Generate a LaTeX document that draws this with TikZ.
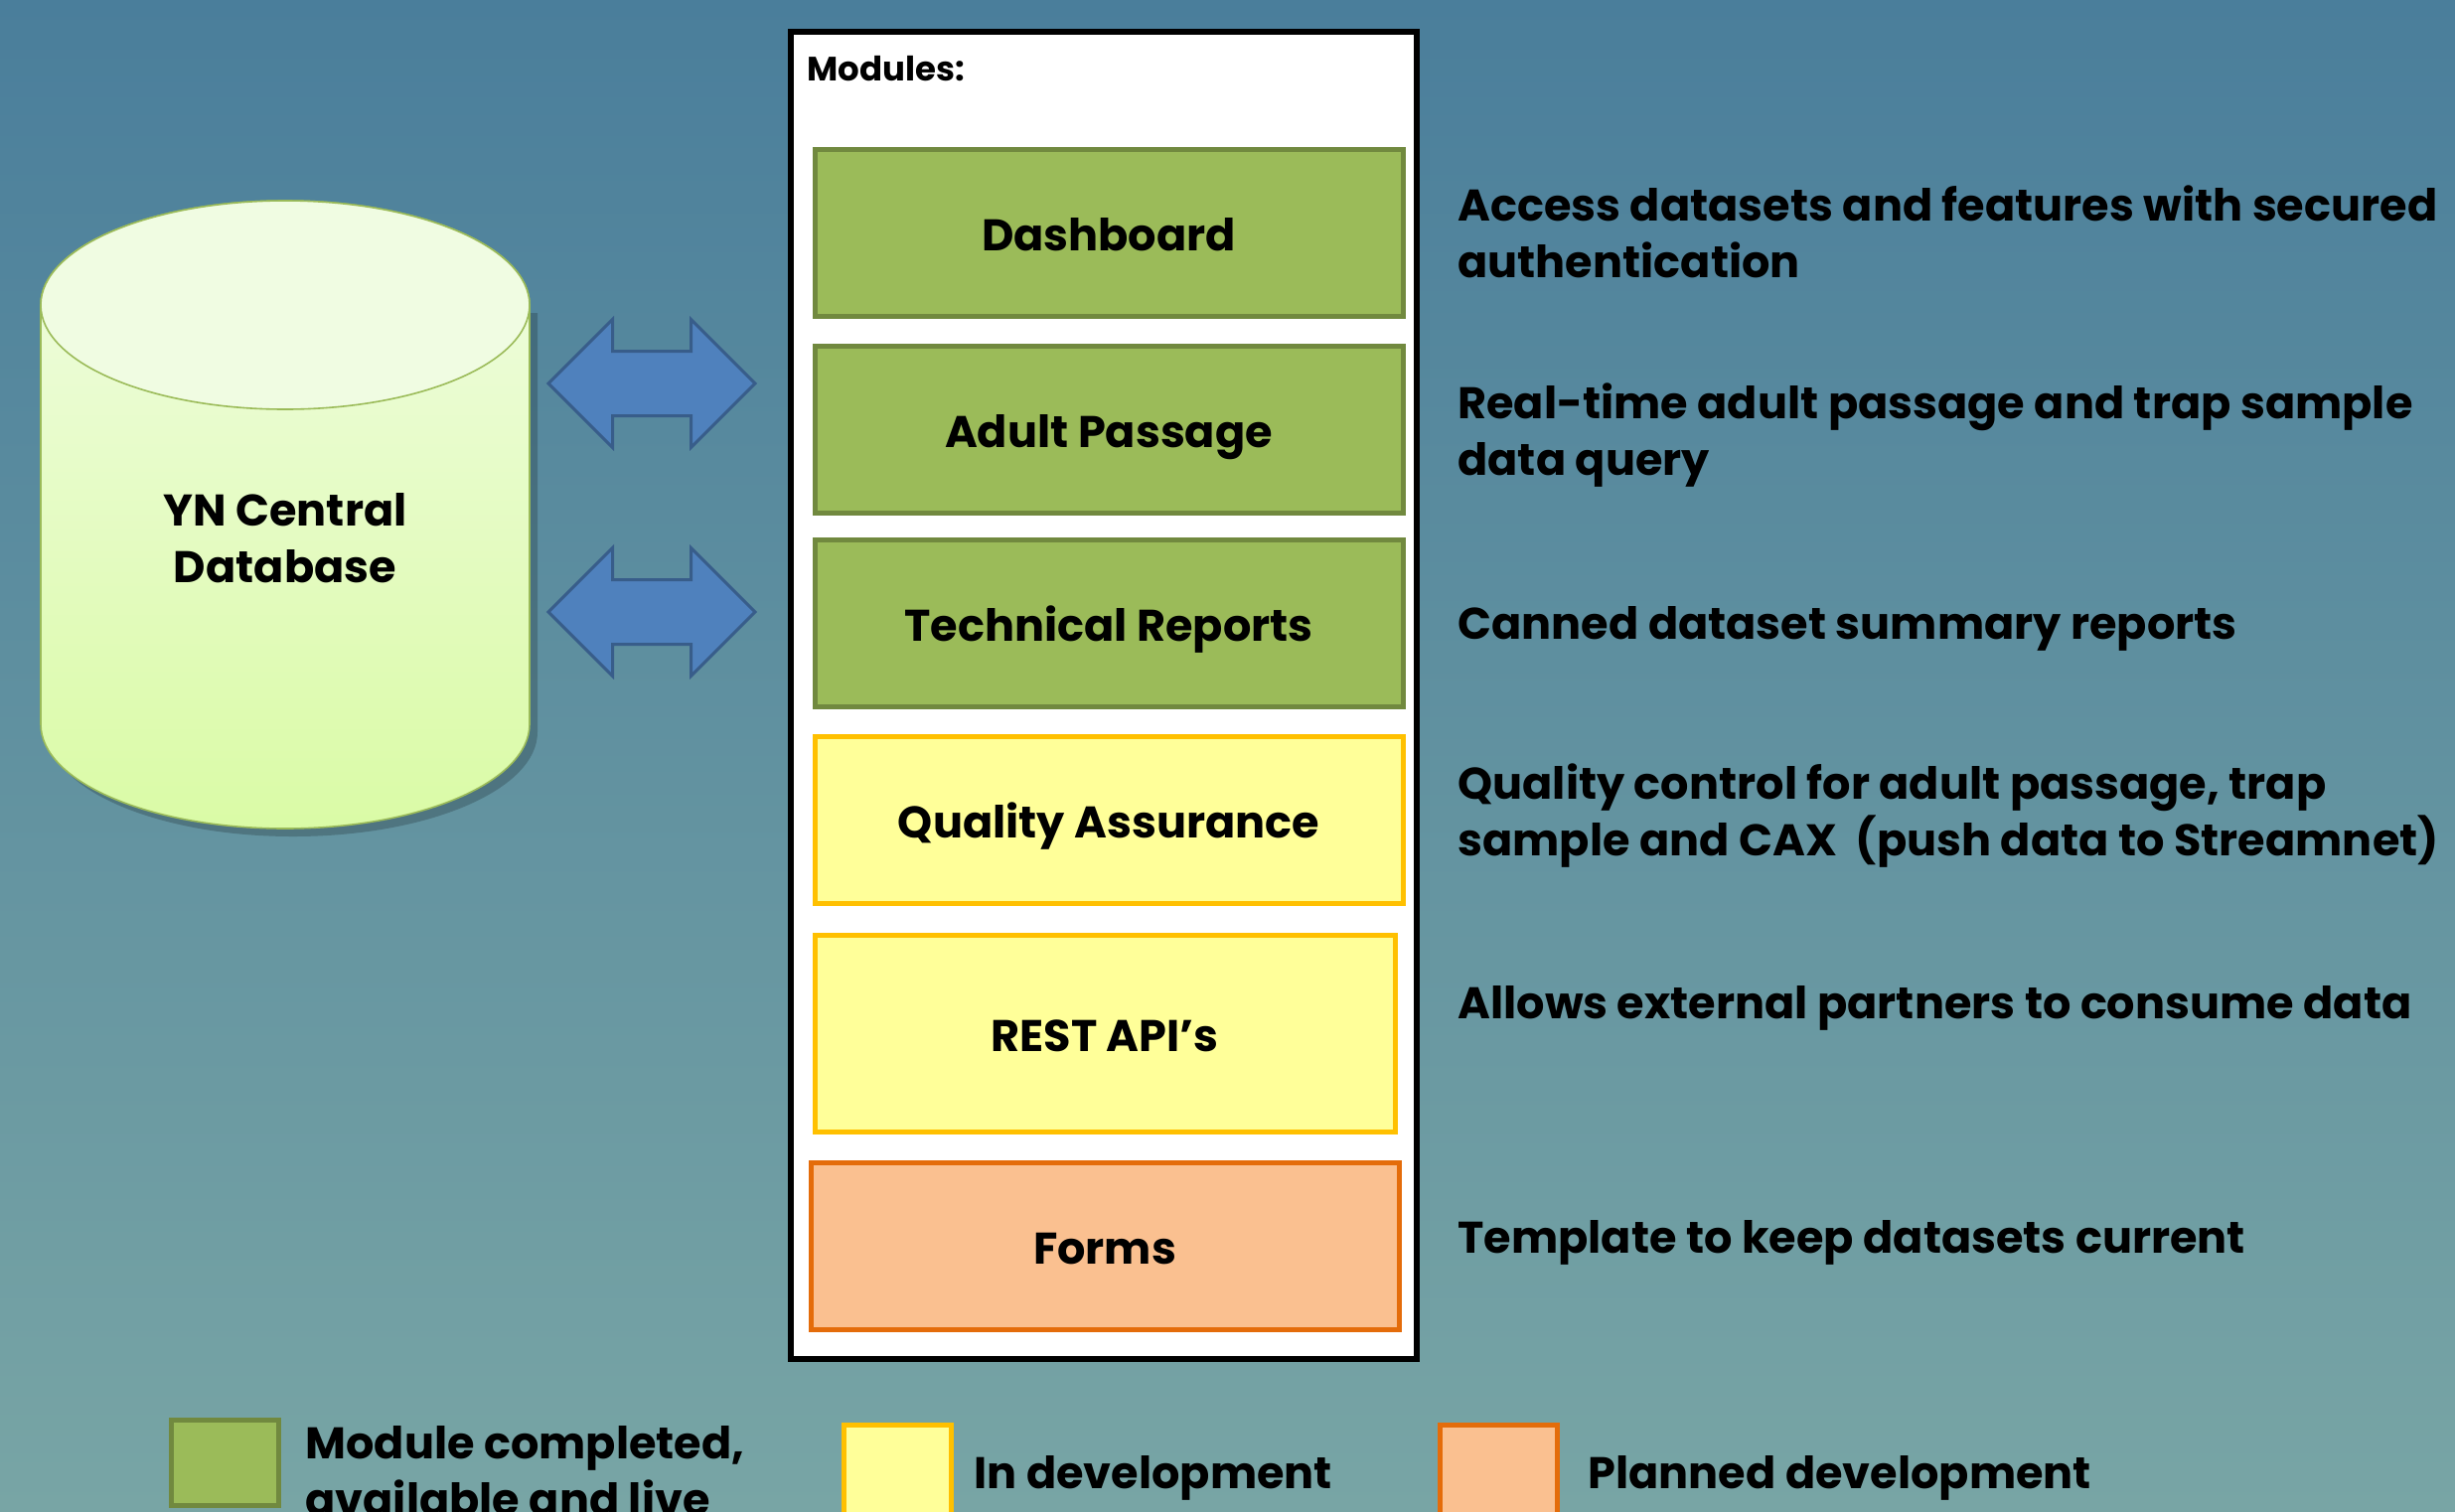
\documentclass[tikz,border=0pt]{standalone}
\usepackage{fontspec}
\setmainfont{Poppins}
\usepackage{xcolor}
\usetikzlibrary{shapes.arrows,positioning,calc}

\definecolor{bgtop}{HTML}{4A7E9B}
\definecolor{bgbot}{HTML}{78A5A5}
\definecolor{donefill}{HTML}{9BBB59}
\definecolor{donedraw}{HTML}{71893F}
\definecolor{devfill}{HTML}{FFFF99}
\definecolor{devdraw}{HTML}{FFC000}
\definecolor{planfill}{HTML}{FAC090}
\definecolor{plandraw}{HTML}{E46C0A}
\definecolor{dbtop}{HTML}{F0FCE2}
\definecolor{dbbot}{HTML}{DAFBA6}
\definecolor{dbdraw}{HTML}{9BBB59}
\definecolor{arrowfill}{HTML}{4F81BD}
\definecolor{arrowdraw}{HTML}{385D8A}

\tikzset{
    modbox/.style={draw,line width=2.5pt,minimum width=296pt,minimum height=84pt,
        inner sep=0pt,text height=18.6pt,text depth=0pt,
        font=\fontsize{22.3}{26}\selectfont\bfseries},
    done/.style={modbox,fill=donefill,draw=donedraw},
    indev/.style={modbox,fill=devfill,draw=devdraw},
    planned/.style={modbox,fill=planfill,draw=plandraw},
    desc/.style={anchor=west,align=left,inner sep=0pt,text depth=0.25em,
        font=\fontsize{22.3}{28.5}\selectfont\bfseries},
    legbox/.style={line width=2.5pt,minimum width=54pt,minimum height=46pt,inner sep=0pt},
    dblarrow/.style={double arrow,fill=arrowfill,draw=arrowdraw,line width=1.5pt,
        minimum height=104pt,double arrow head extend=16pt,
        inner xsep=0pt,inner ysep=15.5pt}
}

\begin{document}
\begin{tikzpicture}[x=0.5pt,y=-0.5pt]
        % Background
        \useasboundingbox (0,0) rectangle (2471,1521);
        \shade[top color=bgtop,bottom color=bgbot] (0,0) rectangle (2471,1521);

        % Database cylinder
        \fill[black,opacity=0.2] (49,315) -- (49,737) arc[start angle=180,end angle=0,x radius=246,y radius=105]
            -- (541,315) -- cycle;
        \shade[top color=dbtop,bottom color=dbbot,draw=dbdraw,line width=0.8pt]
            (41,307) -- (41,729) arc[start angle=180,end angle=0,x radius=246,y radius=105]
            -- (533,307) arc[start angle=0,end angle=-180,x radius=246,y radius=105] -- cycle;
        \draw[dbdraw,line width=0.8pt,fill=dbtop] (287,307) ellipse[x radius=246,y radius=105];
        \node[align=center,font=\fontsize{22.3}{28.5}\selectfont\bfseries] (db) at (287,542) {YN Central\\Database};

        % Arrows to the modules
        \node[dblarrow] (arrowA) at (656,386) {};
        \node[dblarrow] (arrowB) at (656,616) {};

        % Modules frame
        \draw[line width=3pt,fill=white] (796,32) rectangle (1426,1368);
        \node[anchor=west,inner sep=0pt,font=\fontsize{17}{20}\selectfont\bfseries] (modtitle) at (812,69) {Modules:};

        % Module boxes
        \node[done] (dash) at (1116,234) {Dashboard};
        \node[done] (adult) at (1116,432) {Adult Passage};
        \node[done] (tech) at (1116,627) {Technical Reports};
        \node[indev] (qa) at (1116,825) {Quality Assurance};
        \node[indev,minimum width=292pt,minimum height=99pt] (rest) at (1112,1040) {REST API’s};
        \node[planned] (forms) at (1112,1254) {Forms};

        % Descriptions
        \node[desc] (dashtxt) at (1467,236) {Access datasets and features with secured\\authentication};
        \node[desc] (adulttxt) at (1467,435) {Real-time adult passage and trap sample\\data query};
        \node[desc] (techtxt) at (1467,629) {Canned dataset summary reports};
        \node[desc] (qatxt) at (1467,818) {Quality control for adult passage, trap\\sample and CAX\ \ (push data to Streamnet)};
        \node[desc] (resttxt) at (1467,1011) {Allows external partners to consume data};
        \node[desc] (formstxt) at (1467,1247) {Template to keep datasets current};

        % Legend
        \node[legbox,fill=donefill,draw=donedraw,minimum height=43pt] (legdone) at (226,1472) {};
        \node[desc] (legdonetxt) at (307,1483) {Module completed,\\available and live};
        \node[legbox,fill=devfill,draw=devdraw] (legdev) at (903,1480) {};
        \node[desc] (legdevtxt) at (980,1484) {In development};
        \node[legbox,fill=planfill,draw=plandraw,minimum width=59pt] (legplan) at (1508,1480) {};
        \node[desc] (legplantxt) at (1598,1484) {Planned development};
    \end{tikzpicture}
\end{document}
